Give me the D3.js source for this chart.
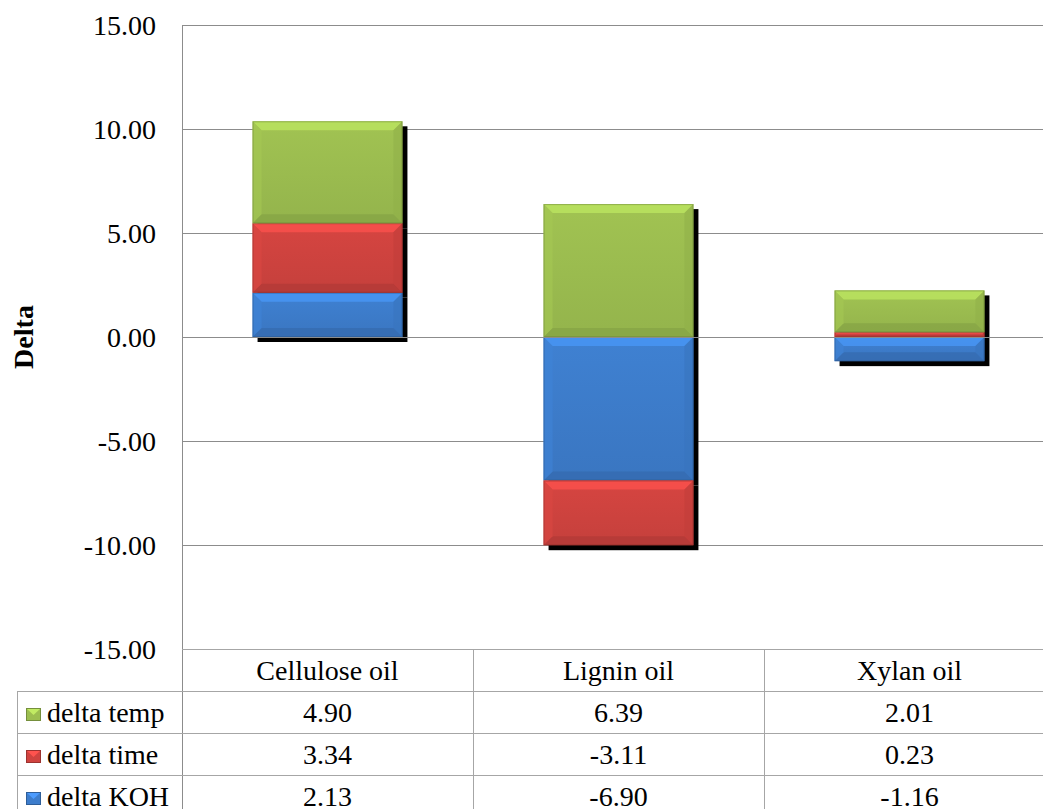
<!DOCTYPE html>
<html>
<head>
<meta charset="utf-8">
<script src="https://cdn.jsdelivr.net/npm/d3@7"></script>
<style>
  html, body { margin: 0; padding: 0; background: #fff; }
  svg { display: block; }
  text { font-family: "Liberation Serif", "Times New Roman", serif; fill: #000; }
</style>
</head>
<body>
<svg id="chart" width="1043" height="809"></svg>
<script>
// Chart data
const categories = ["Cellulose oil", "Lignin oil", "Xylan oil"];
const deltaKOH  = [2.13, -6.90, -1.16];
const deltaTime = [3.34, -3.11, 0.23];
const deltaTemp = [4.90, 6.39, 2.01];
const seriesNames = ["delta KOH", "delta time", "delta temp"];
const seriesColors = ["#3d7dcc", "#d0433f", "#9cbe50"];
const yTicks = [-15, -10, -5, 0, 5, 10, 15];
const yLabel = "Delta";

const seriesValues = [deltaKOH, deltaTime, deltaTemp];
const rows = categories.map((c, i) => {
  const r = { category: c };
  seriesNames.forEach((s, k) => { r[s] = seriesValues[k][i]; });
  return r;
});

// Two decimals with a plain hyphen for negatives
const fmt = v => d3.format(".2f")(v).replace("\u2212", "-");

// Layout
const plot = { left: 182, top: 25, bottom: 649, right: 1055 };
const rowH = 42;
const tableLeft = 17;
const fontSize = 28;

const svg = d3.select("#chart");
const defs = svg.append("defs");

const x = d3.scaleBand().domain(categories).range([plot.left, plot.right]).paddingInner(0).paddingOuter(0);
const barPad = 0.485; // bar occupies ~51% of each category slot
const y = d3.scaleLinear().domain([-15, 15]).range([plot.bottom, plot.top]);

// Gradients for bar faces
seriesColors.forEach((c, k) => {
  const g = defs.append("linearGradient").attr("id", "face" + k)
    .attr("x1", 0).attr("y1", 0).attr("x2", 0).attr("y2", 1);
  g.append("stop").attr("offset", "0%").attr("stop-color", d3.color(c).brighter(0.08));
  g.append("stop").attr("offset", "100%").attr("stop-color", d3.color(c).darker(0.15));
});

const blur = defs.append("filter").attr("id", "soft").attr("x", "-10%").attr("y", "-10%").attr("width", "120%").attr("height", "120%");
blur.append("feGaussianBlur").attr("stdDeviation", 0.7);

// Gridlines
const gridColor = "#8c8c8c";
svg.append("g").selectAll("line").data(yTicks).join("line")
  .attr("x1", plot.left).attr("x2", plot.right)
  .attr("y1", d => Math.round(y(d)) + 0.5).attr("y2", d => Math.round(y(d)) + 0.5)
  .attr("stroke", gridColor).attr("stroke-width", 1);

// Y axis line
svg.append("line")
  .attr("x1", plot.left + 0.5).attr("x2", plot.left + 0.5)
  .attr("y1", plot.top).attr("y2", plot.bottom + 4 * rowH)
  .attr("stroke", gridColor);

// Y tick labels
svg.append("g").selectAll("text").data(yTicks).join("text")
  .attr("x", 156).attr("y", d => y(d))
  .attr("text-anchor", "end").attr("dominant-baseline", "central")
  .style("font-size", fontSize + "px")
  .text(d => fmt(d));

// Y axis title
svg.append("text")
  .attr("transform", `translate(33, ${y(0)}) rotate(-90)`)
  .attr("text-anchor", "middle")
  .style("font-size", fontSize + "px").style("font-weight", "bold")
  .text(yLabel);

// Stacked data (positive values stack upward, negatives downward)
const stack = d3.stack().keys(seriesNames).offset(d3.stackOffsetDiverging);
const stacked = stack(rows);

const bw = x.bandwidth() * (1 - barPad);
const bx = d => x(d.data.category) + (x.bandwidth() - bw) / 2;

// Shadows behind all segments
const shadowG = svg.append("g").attr("filter", "url(#soft)");
stacked.forEach(s => {
  shadowG.selectAll(null).data(s.filter(d => d[0] !== d[1])).join("rect")
    .attr("x", d => bx(d) + 5)
    .attr("y", d => y(Math.max(d[0], d[1])) + 5)
    .attr("width", bw)
    .attr("height", d => Math.abs(y(d[0]) - y(d[1])))
    .attr("fill", "#000");
});

// Bevelled segments
stacked.forEach((s, k) => {
  const g = svg.append("g");
  s.forEach(d => {
    if (d[0] === d[1]) return;
    const x0 = bx(d), x1 = x0 + bw;
    const y0 = y(Math.max(d[0], d[1])), y1 = y(Math.min(d[0], d[1]));
    const h = y1 - y0;
    const b = Math.min(9, h / 2, bw / 2);
    const base = d3.color(seriesColors[k]);
    g.append("rect").attr("x", x0).attr("y", y0).attr("width", bw).attr("height", h)
      .attr("fill", `url(#face${k})`);
    const poly = (pts, fill, op) => g.append("polygon")
      .attr("points", pts.map(p => p.join(",")).join(" "))
      .attr("fill", fill).attr("fill-opacity", op);
    poly([[x0, y0], [x1, y0], [x1 - b, y0 + b], [x0 + b, y0 + b]], base.brighter(0.55), 0.75);
    poly([[x0, y1], [x1, y1], [x1 - b, y1 - b], [x0 + b, y1 - b]], base.darker(0.45), 0.7);
    poly([[x0, y0], [x0 + b, y0 + b], [x0 + b, y1 - b], [x0, y1]], base.brighter(0.15), 0.6);
    poly([[x1, y0], [x1 - b, y0 + b], [x1 - b, y1 - b], [x1, y1]], base.darker(0.2), 0.6);
    g.append("rect").attr("x", x0 + 0.5).attr("y", y0 + 0.5).attr("width", bw - 1).attr("height", Math.max(0, h - 1))
      .attr("fill", "none").attr("stroke", base.darker(0.9)).attr("stroke-opacity", 0.55).attr("stroke-width", 1);
  });
});

// Horizontal axis at zero
svg.append("line")
  .attr("x1", plot.left).attr("x2", plot.right)
  .attr("y1", Math.round(y(0)) + 0.5).attr("y2", Math.round(y(0)) + 0.5)
  .attr("stroke", gridColor);

// Data table
const tableColor = "#a6a6a6";
const table = svg.append("g");
const tableBottom = plot.bottom + 4 * rowH;
table.append("line").attr("x1", plot.left).attr("x2", plot.right)
  .attr("y1", plot.bottom + 0.5).attr("y2", plot.bottom + 0.5).attr("stroke", tableColor);
[1, 2, 3, 4].forEach(i => {
  table.append("line").attr("x1", tableLeft).attr("x2", plot.right)
    .attr("y1", plot.bottom + i * rowH + 0.5).attr("y2", plot.bottom + i * rowH + 0.5)
    .attr("stroke", tableColor);
});
table.append("line").attr("x1", tableLeft + 0.5).attr("x2", tableLeft + 0.5)
  .attr("y1", plot.bottom + rowH).attr("y2", tableBottom).attr("stroke", tableColor);
categories.forEach(c => {
  const xr = Math.round(x(c) + x.bandwidth()) + 0.5;
  table.append("line").attr("x1", xr).attr("x2", xr)
    .attr("y1", plot.bottom).attr("y2", tableBottom).attr("stroke", tableColor);
});

// Header (category names)
table.selectAll("text.cat").data(categories).join("text").attr("class", "cat")
  .attr("x", d => x(d) + x.bandwidth() / 2)
  .attr("y", plot.bottom + rowH / 2)
  .attr("text-anchor", "middle").attr("dominant-baseline", "central")
  .style("font-size", fontSize + "px")
  .text(d => d);

// Rows: series listed top-down in reverse stacking order
const tableOrder = [2, 1, 0];
tableOrder.forEach((k, r) => {
  const cy = plot.bottom + (r + 1) * rowH + rowH / 2;
  const kx = 26, ks = 14;
  const kc = d3.color(seriesColors[k]);
  table.append("rect").attr("x", kx).attr("y", cy - 4).attr("width", ks + 1).attr("height", ks - 1)
    .attr("fill", kc);
  table.append("polygon")
    .attr("points", `${kx},${cy - 4} ${kx + ks + 1},${cy - 4} ${kx + ks / 2 + 0.5},${cy + 3}`)
    .attr("fill", kc.brighter(0.6));
  table.append("rect").attr("x", kx + 0.5).attr("y", cy - 3.5).attr("width", ks).attr("height", ks - 2)
    .attr("fill", "none").attr("stroke", kc.darker(0.8)).attr("stroke-width", 1);
  table.append("text")
    .attr("x", 47).attr("y", cy)
    .attr("dominant-baseline", "central")
    .style("font-size", fontSize + "px")
    .text(seriesNames[k]);
  table.selectAll(null).data(categories).join("text")
    .attr("x", d => x(d) + x.bandwidth() / 2).attr("y", cy)
    .attr("text-anchor", "middle").attr("dominant-baseline", "central")
    .style("font-size", fontSize + "px")
    .text((d, i) => fmt(seriesValues[k][i]));
});
</script>
</body>
</html>
